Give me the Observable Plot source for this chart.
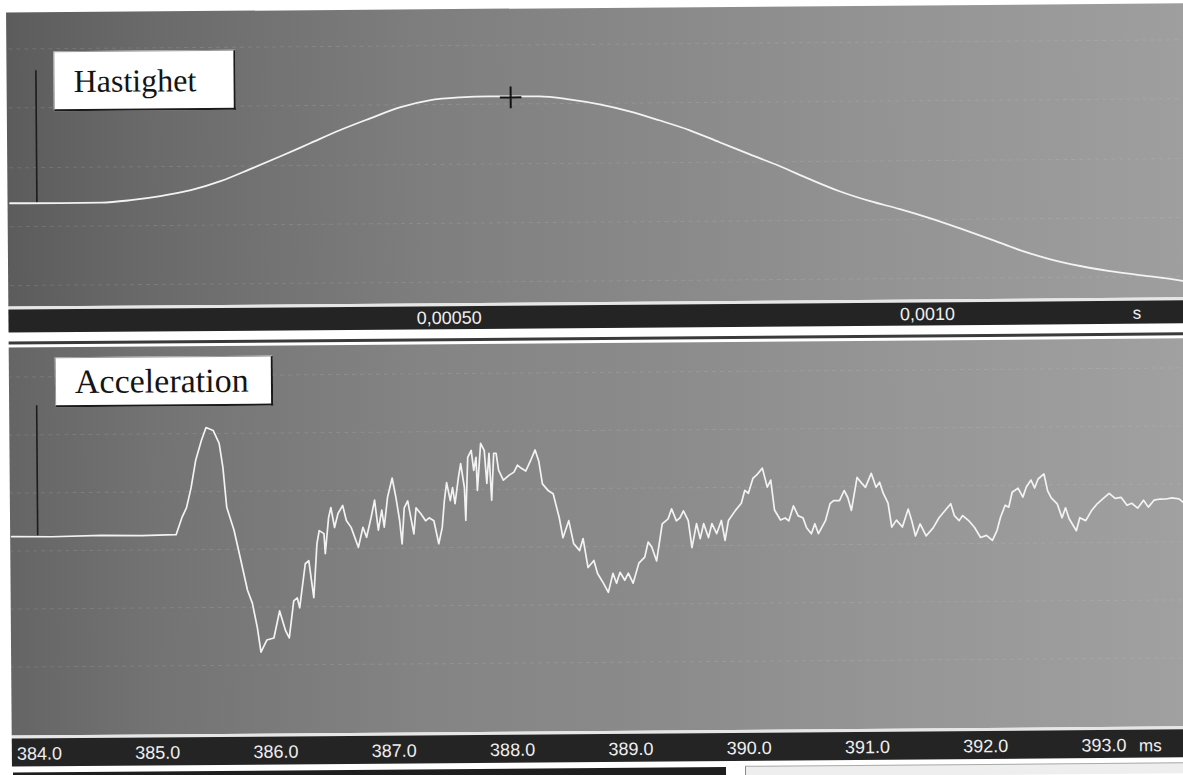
<!DOCTYPE html>
<html><head><meta charset="utf-8">
<script src="https://cdn.jsdelivr.net/npm/d3@7"></script>
<script src="https://cdn.jsdelivr.net/npm/@observablehq/plot@0.6"></script>
<style>
html,body{margin:0;padding:0;background:#fff;}
#page{position:relative;width:1183px;height:775px;overflow:hidden;background:#fff;}
#rot{position:absolute;left:0;top:0;width:1183px;height:775px;transform:rotate(-0.45deg);transform-origin:591px 387px;}
.abs{position:absolute;}
.label{position:absolute;background:#fff;border-top:1px solid #9a9a9a;border-left:1px solid #9a9a9a;border-right:2px solid #1a1a1a;border-bottom:2px solid #1a1a1a;font-family:"Liberation Serif","Times New Roman",serif;color:#141414;box-sizing:border-box;white-space:nowrap;}
</style></head><body><div id="page"><div id="rot"></div></div>
<script>
// ---- Hastighet (velocity), time in seconds ----
const velTime = [0.0000418, 0.0000950, 0.000137, 0.000168, 0.000199, 0.000231, 0.000262, 0.000293, 0.000325, 0.000356, 0.000387, 0.000419, 0.000450, 0.000481, 0.000513, 0.000544, 0.000566, 0.000596, 0.000627, 0.000659, 0.000690, 0.000721, 0.000753, 0.000784, 0.000815, 0.000847, 0.000878, 0.000909, 0.000941, 0.000972, 0.001003, 0.001034, 0.001066, 0.001097, 0.001128, 0.001160, 0.001191, 0.001222, 0.001254, 0.001267];
const velValue = [0.5, 0.2, 0.4, 2.6, 6.4, 12.1, 20.9, 32.7, 45.4, 58.2, 71, 82.7, 93.5, 100.3, 103, 103.8, 103.6, 103.4, 100.2, 94.9, 87.7, 78.5, 68.2, 56, 43.8, 31.5, 18.3, 6, -4.2, -12.4, -21.6, -31.9, -43.1, -54.4, -63.6, -70.8, -76.1, -80.3, -84.5, -86.6];
const velTicks = [0.0005, 0.001];
const velTickLabels = ["0,00050", "0,0010"];
const velUnit = "s";
const velCursor = [{t: 0.0000699, top: 133, bottom: 0}];
const velMarker = [{t: 0.000566, v: 102.6}];
const velGrid = [155, 96, 36, -23, -82];

// ---- Acceleration, time in ms ----
const accTime = [383.78, 384.12, 384.54, 384.88, 385.09, 385.17, 385.22, 385.26, 385.30, 385.34, 385.39, 385.43, 385.49, 385.54, 385.57, 385.60, 385.66, 385.71, 385.77, 385.81, 385.85, 385.88, 385.93, 385.99, 386.04, 386.09, 386.12, 386.16, 386.19, 386.21, 386.26, 386.29, 386.33, 386.36, 386.38, 386.42, 386.43, 386.46, 386.48, 386.51, 386.54, 386.58, 386.61, 386.65, 386.71, 386.75, 386.78, 386.82, 386.85, 386.88, 386.91, 386.93, 386.96, 387.00, 387.03, 387.06, 387.08, 387.10, 387.13, 387.18, 387.20, 387.24, 387.28, 387.31, 387.35, 387.39, 387.42, 387.44, 387.46, 387.49, 387.51, 387.53, 387.56, 387.58, 387.61, 387.62, 387.64, 387.67, 387.69, 387.71, 387.72, 387.75, 387.78, 387.80, 387.82, 387.84, 387.86, 387.88, 387.90, 387.94, 387.99, 388.03, 388.06, 388.09, 388.13, 388.17, 388.21, 388.24, 388.27, 388.32, 388.36, 388.41, 388.44, 388.49, 388.53, 388.58, 388.61, 388.65, 388.70, 388.73, 388.78, 388.82, 388.86, 388.89, 388.92, 388.96, 388.99, 389.03, 389.08, 389.13, 389.16, 389.19, 389.23, 389.28, 389.33, 389.36, 389.40, 389.43, 389.46, 389.50, 389.53, 389.57, 389.60, 389.63, 389.67, 389.70, 389.74, 389.78, 389.81, 389.84, 389.90, 389.95, 389.98, 390.01, 390.05, 390.08, 390.13, 390.17, 390.20, 390.23, 390.28, 390.32, 390.35, 390.39, 390.43, 390.47, 390.50, 390.54, 390.57, 390.60, 390.66, 390.70, 390.73, 390.78, 390.82, 390.85, 390.88, 390.93, 390.97, 391.00, 391.05, 391.09, 391.12, 391.15, 391.19, 391.22, 391.26, 391.31, 391.36, 391.39, 391.42, 391.46, 391.51, 391.57, 391.62, 391.67, 391.72, 391.75, 391.79, 391.82, 391.87, 391.92, 391.97, 392.02, 392.07, 392.11, 392.14, 392.18, 392.21, 392.24, 392.29, 392.33, 392.36, 392.40, 392.43, 392.46, 392.51, 392.54, 392.57, 392.62, 392.66, 392.69, 392.72, 392.78, 392.81, 392.86, 392.91, 392.96, 393.01, 393.06, 393.11, 393.16, 393.21, 393.25, 393.30, 393.35, 393.39, 393.44, 393.49, 393.54, 393.59, 393.65, 393.69];
const accValue = [-0.5, -1, 0, -0.5, 0, 0, 17, 27, 47, 74, 94, 107, 104, 91, 67, 27, 4, -23, -56, -69, -93, -118, -106, -104, -77, -97, -104, -67, -64, -74, -30, -27, -64, -10, 3, 0, -20, 16, 26, 6, 20, 28, 13, 6, -14, 6, -4, 16, 33, 3, 23, 6, 36, 55, 36, 13, -11, 25, 32, -1, 25, 19, 12, 15, 12, -11, 5, 32, 50, 32, 45, 29, 55, 69, 45, 12, 75, 82, 62, 75, 42, 89, 82, 49, 79, 32, 79, 79, 62, 52, 57, 60, 67, 64, 61, 71, 82, 71, 48, 41, 38, 14, -6, 11, -12, -19, -7, -36, -29, -42, -52, -61, -42, -52, -41, -49, -42, -52, -32, -26, -11, -16, -30, 7, 12, 22, 10, 13, 20, 10, -17, 7, -8, 7, -7, 7, -3, 10, -10, 10, 20, 27, 40, 37, 52, 55, 62, 43, 50, 20, 10, 12, 9, 24, 14, 12, 2, -4, 6, -4, 9, 26, 29, 29, 39, 32, 19, 52, 46, 42, 56, 42, 47, 36, 26, 2, 9, 2, 20, 8, -7, 5, -7, 1, 11, 18, 25, 13, 8, 13, 8, 1, -9, -7, -12, -2, 11, 23, 21, 36, 40, 31, 41, 48, 40, 49, 54, 37, 30, 24, 10, 20, 9, -3, 10, 7, 17, 24, 29, 34, 29, 30, 22, 24, 19, 27, 20, 27, 28, 28, 29, 28, 24];
const accTicks = [384, 385, 386, 387, 388, 389, 390, 391, 392, 393];
const accTickLabels = ["384.0", "385.0", "386.0", "387.0", "388.0", "389.0", "390.0", "391.0", "392.0", "393.0"];
const accUnit = "ms";
const accCursor = [{t: 384.0, top: 130, bottom: 0}];
const accGrid = [159, 101, 43, -15, -73, -131];

const titles = ["Hastighet", "Acceleration"];

const root = document.getElementById("rot");
function div(style, html, cls) {
  const d = document.createElement("div");
  d.className = cls || "abs";
  Object.assign(d.style, style);
  if (html) d.textContent = html;
  root.appendChild(d);
  return d;
}

const axisFont = '"Liberation Sans", Arial, sans-serif';
const topGrad = "linear-gradient(90deg,#5c5c5c 0%,#6a6a6a 12%,#7e7e7e 35%,#898989 55%,#949494 75%,#9f9f9f 100%)";
const botGrad = "linear-gradient(90deg,#656565 0%,#737373 12%,#848484 35%,#8b8b8b 55%,#969696 75%,#a1a1a1 100%)";
const W = 1190; // panels run past the right edge (clipped)

// ---------- top panel (Hastighet) ----------
const topT = 8, topG = 294;
div({left: "9px", top: topT + "px", width: W + "px", height: topG + "px", background: topGrad});
div({left: "9px", top: (topT + topG) + "px", width: W + "px", height: "3px", background: "#e6e6e6"});
div({left: "9px", top: (topT + topG + 3) + "px", width: W + "px", height: "23px", background: "#242424"});

const velData = velTime.map((t, i) => ({t, v: velValue[i]}));
const topPlot = Plot.plot({
  width: 1174, height: topG + 26,
  marginTop: 0, marginRight: 0, marginBottom: 26, marginLeft: 0,
  style: {background: "transparent", fontFamily: axisFont, fontSize: "18px", overflow: "visible"},
  x: {domain: [0.0000418, 0.001267], axis: null},
  y: {domain: [-103, 191], axis: null},
  marks: [
    Plot.gridY(velGrid, {stroke: "#e0e0e0", strokeOpacity: 0.14, strokeDasharray: "4,4"}),
    Plot.ruleX(velCursor, {x: "t", y1: "bottom", y2: "top", stroke: "#1c1c1c", strokeWidth: 1.6}),
    Plot.line(velData, {x: "t", y: "v", stroke: "#f3f3f3", strokeWidth: 1.8, curve: "monotone-x"}),
    Plot.dot(velMarker, {x: "t", y: "v", symbol: "plus", r: 7, stroke: "#121212", strokeWidth: 2}),
    Plot.axisX(velTicks, {anchor: "bottom", label: null, tickSize: 0, tickPadding: 8, color: "#efefef", fill: "#efefef", fontSize: 18,
      tickFormat: d => velTickLabels[velTicks.indexOf(d)]}),
    Plot.text([velUnit], {frameAnchor: "bottom-right", textAnchor: "middle", lineAnchor: "top", dx: -46, dy: 9, fill: "#efefef", fontSize: 17})
  ]
});
div({left: "11px", top: topT + "px"}).appendChild(topPlot);

div({left: "56px", top: "47px", width: "182px", height: "60px", fontSize: "32px", lineHeight: "58px", paddingLeft: "19px"}, titles[0], "label");

// separator between panels
div({left: "9px", top: "337px", width: W + "px", height: "3px", background: "#3a3a3a"});

// ---------- bottom panel (Acceleration) ----------
const botT = 343, botG = 388;
div({left: "9px", top: botT + "px", width: W + "px", height: botG + "px", background: botGrad});
div({left: "9px", top: (botT + botG) + "px", width: W + "px", height: "3px", background: "#e6e6e6"});
div({left: "9px", top: (botT + botG + 3) + "px", width: W + "px", height: "28px", background: "#242424"});

const accData = accTime.map((t, i) => ({t, v: accValue[i]}));
const botPlot = Plot.plot({
  width: 1174, height: botG + 31,
  marginTop: 0, marginRight: 0, marginBottom: 31, marginLeft: 0,
  style: {background: "transparent", fontFamily: axisFont, fontSize: "18px", overflow: "visible"},
  x: {domain: [383.763, 393.687], axis: null},
  y: {domain: [-200, 188], axis: null},
  marks: [
    Plot.gridY(accGrid, {stroke: "#e0e0e0", strokeOpacity: 0.14, strokeDasharray: "4,4"}),
    Plot.ruleX(accCursor, {x: "t", y1: "bottom", y2: "top", stroke: "#1c1c1c", strokeWidth: 1.6}),
    Plot.line(accData, {x: "t", y: "v", stroke: "#f3f3f3", strokeWidth: 1.7}),
    Plot.axisX(accTicks, {anchor: "bottom", label: null, tickSize: 0, tickPadding: 11, color: "#efefef", fill: "#efefef", fontSize: 18,
      tickFormat: d => accTickLabels[accTicks.indexOf(d)]}),
    Plot.text([accUnit], {frameAnchor: "bottom-right", textAnchor: "middle", lineAnchor: "top", dx: -35, dy: 12, fill: "#efefef", fontSize: 17})
  ]
});
div({left: "8px", top: botT + "px"}).appendChild(botPlot);

div({left: "55px", top: "353px", width: "218px", height: "50px", fontSize: "34px", lineHeight: "48px", paddingLeft: "19px"}, titles[1], "label");

// bottom scrollbar strip
div({left: "10px", top: "768px", width: "713px", height: "9px", background: "#1e1e1e"});
div({left: "742px", top: "767px", width: "460px", height: "10px", background: "#eeeeee", borderTop: "1px solid #aaa", borderLeft: "1px solid #888"});
</script></body></html>
